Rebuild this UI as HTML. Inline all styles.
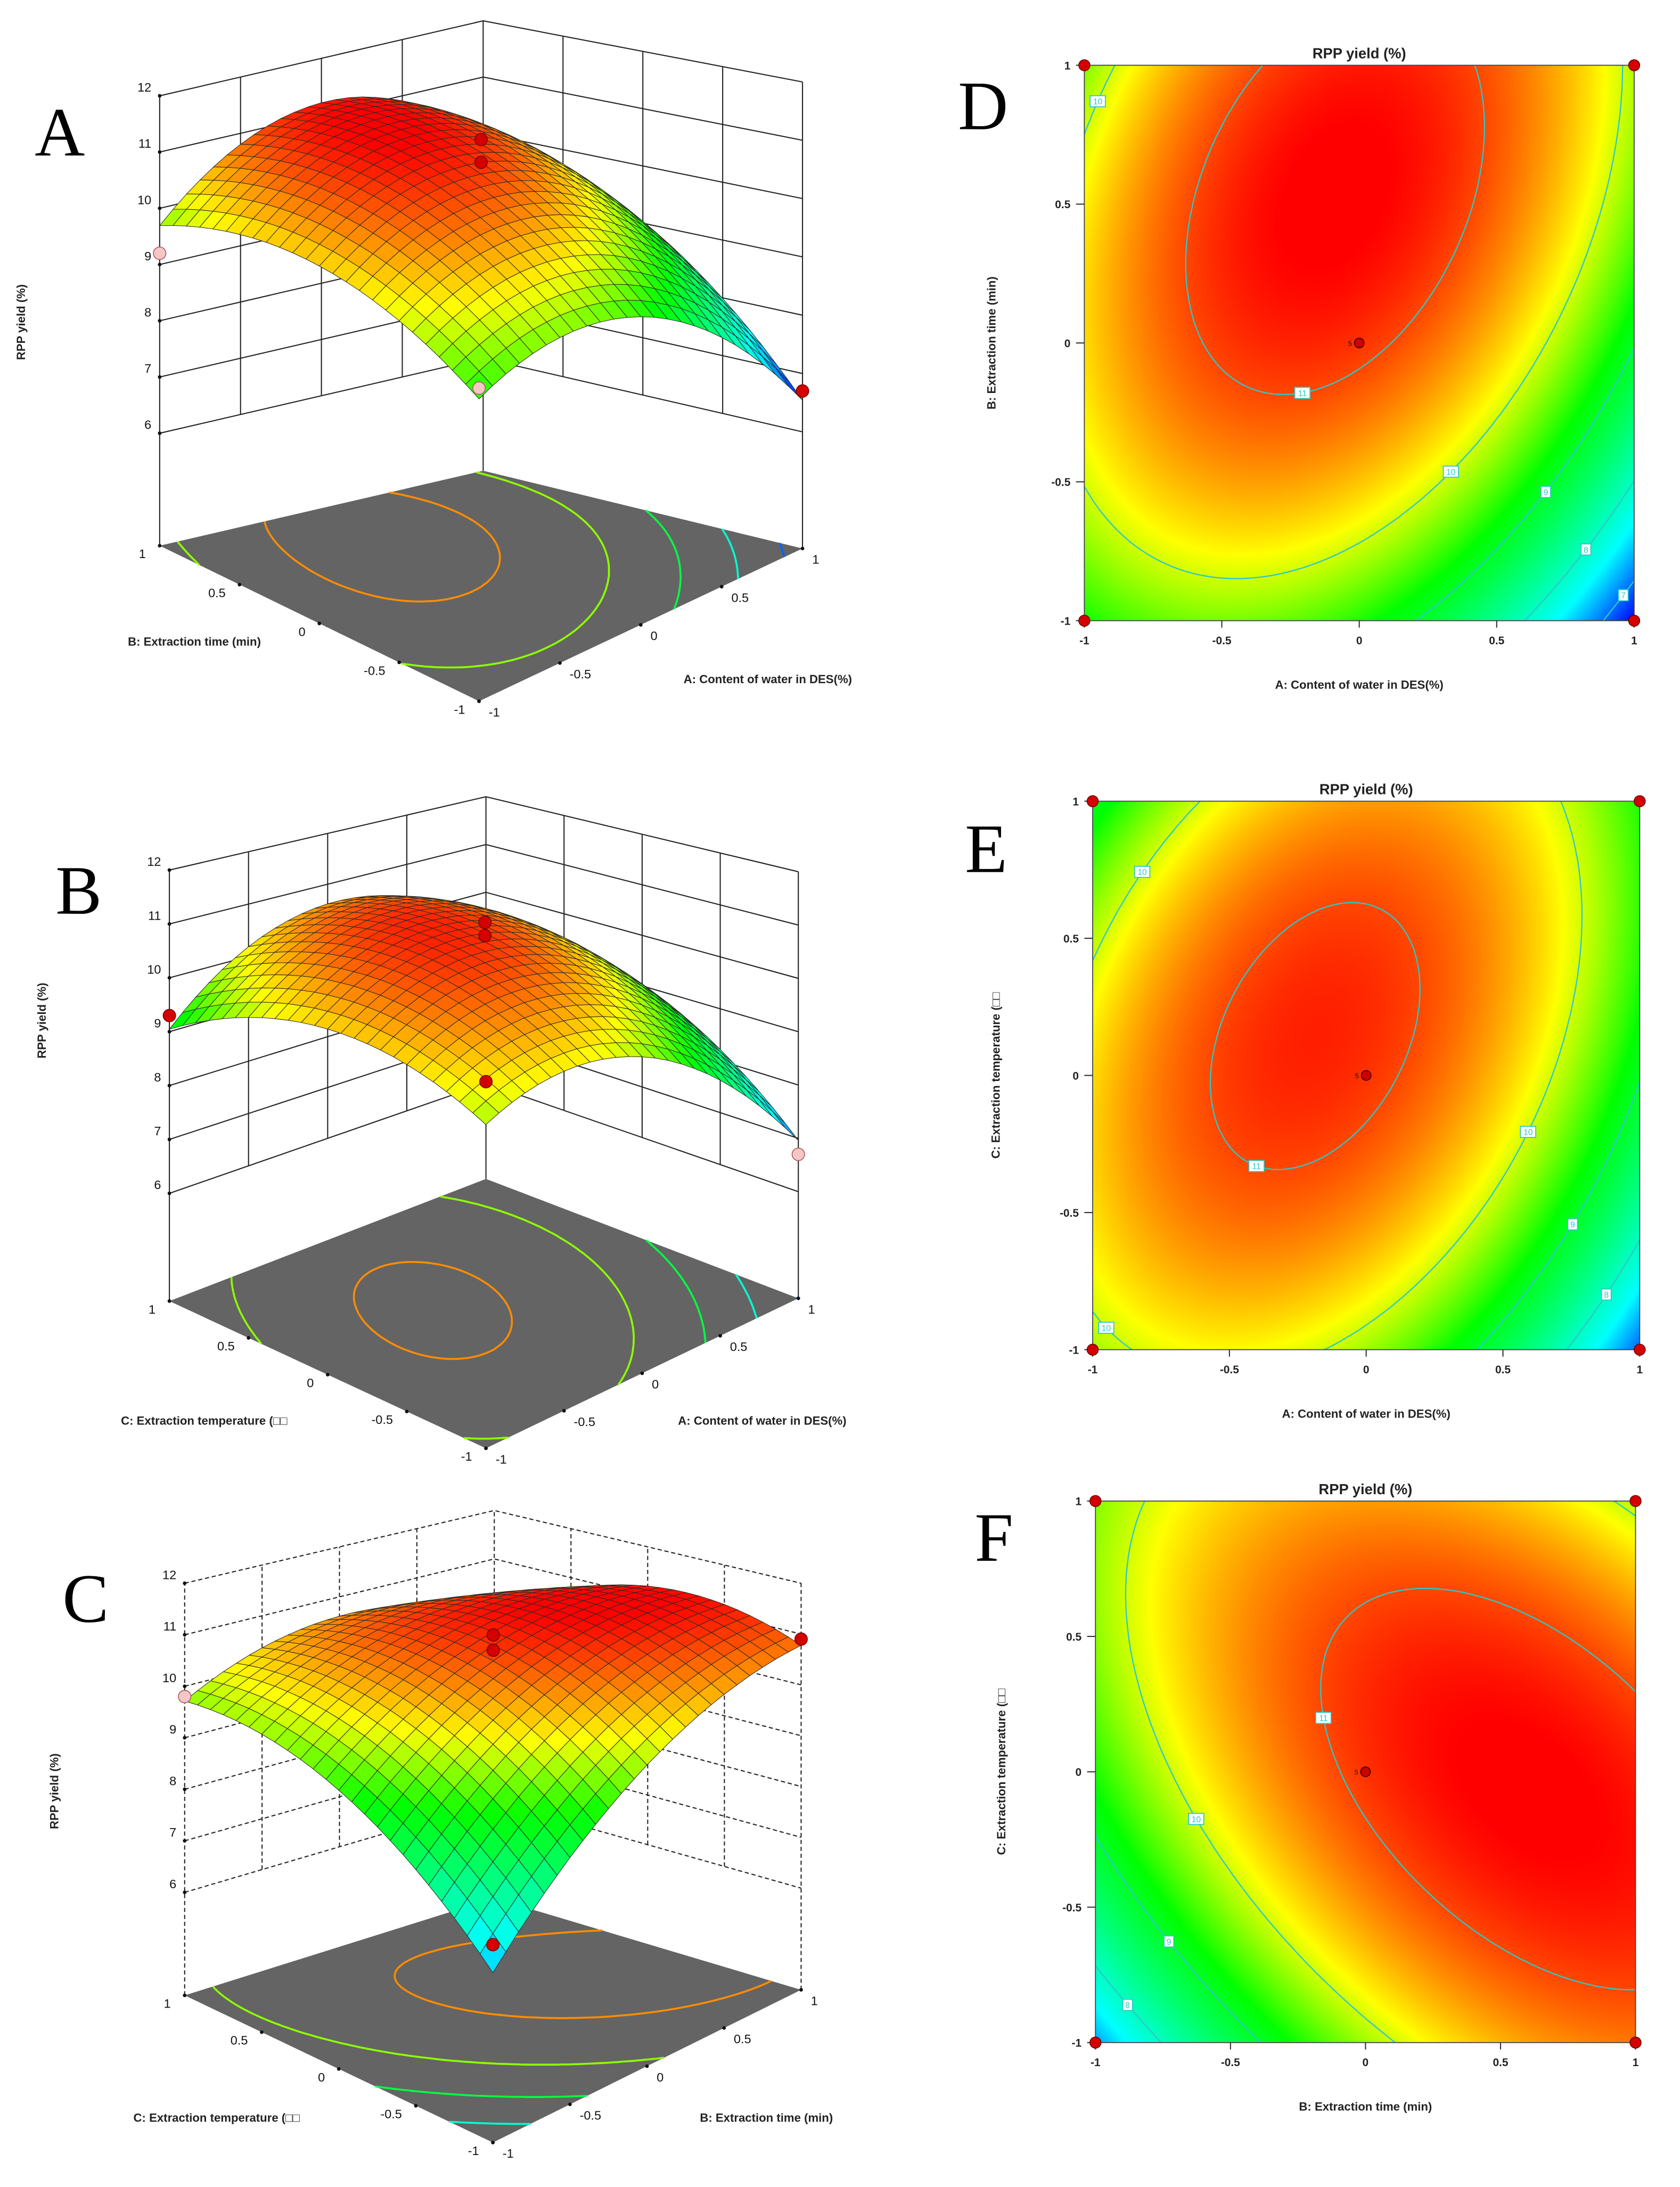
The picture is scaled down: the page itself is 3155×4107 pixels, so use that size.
<!DOCTYPE html>
<html><head><meta charset="utf-8"><style>
html,body{margin:0;padding:0;background:#fff;}
body{width:3155px;height:4107px;overflow:hidden;position:relative;}
#root{position:absolute;left:0;top:0;width:1210px;height:1575px;transform:scale(2.6074,2.6076);transform-origin:0 0;}
canvas{position:absolute;}
svg{position:absolute;left:0;top:0;}
text{font-family:"Liberation Sans",sans-serif;}
</style></head><body>
<div id="root">
<canvas id="hmD"></canvas>
<canvas id="hmE"></canvas>
<canvas id="hmF"></canvas>
<svg id="fig" width="1210" height="1575" viewBox="0 0 1210 1575">
<text x="25" y="112" font-size="50" style="font-family:'Liberation Serif',serif">A</text>
<text x="40" y="658" font-size="50" style="font-family:'Liberation Serif',serif">B</text>
<text x="45" y="1168" font-size="50" style="font-family:'Liberation Serif',serif">C</text>
<text x="690" y="93" font-size="50" style="font-family:'Liberation Serif',serif">D</text>
<text x="695" y="628" font-size="50" style="font-family:'Liberation Serif',serif">E</text>
<text x="702" y="1124" font-size="50" style="font-family:'Liberation Serif',serif">F</text>
</svg>
</div>
<script>
// quadratic response-surface model coefficients (coded factors A, B, C)
const intercept = [11.094];
const linearCoef = [-0.643, 0.932, 0.40];      // A, B, C
const interactionCoef = [0.741, 0.79, -0.848]; // AB, AC, BC
const quadraticCoef = [-1.42, -0.816, -0.88];  // A², B², C²
const contourLevels = [7, 8, 9, 10, 11];
const tickValues = [-1, -0.5, 0, 0.5, 1];
const tickLabels = ['-1', '-0.5', '0', '0.5', '1'];
const zTicks = [6, 7, 8, 9, 10, 11, 12];
// observed design points per 3D panel: [u, v, yield]
const obsA = [[0,0,11.5],[0,0,11.1],[1,-1,6.7],[-1,-1,9.5],[-1,1,9.2]];
const obsAType = ['red','red','red','pink','pink'];
const obsB = [[0,0,11.3],[0,0,11.05],[-1,1,9.3],[-1,-1,10.6],[1,-1,6.7]];
const obsBType = ['red','red','red','red','pink'];
const obsC = [[0,0,11.3],[0,0,11.0],[1,-1,10.9],[-1,1,9.8],[-1,-1,7.75]];
const obsCType = ['red','red','red','pink','red'];
// contour label seeds [u, v, level]
const labelsD = [[-0.95,0.87,10],[-0.21,-0.16,11],[0.32,-0.45,10],[0.67,-0.53,9],[0.82,-0.74,8],[0.95,-0.9,7]];
const labelsE = [[-0.83,0.75,10],[-0.39,-0.3,11],[0.58,-0.2,10],[0.75,-0.54,9],[0.88,-0.8,8],[-0.93,-0.9,10]];
const labelsF = [[-0.15,0.2,11],[-0.62,-0.17,10],[-0.72,-0.62,9],[-0.88,-0.86,8]];

function model(a,b,c){
  return intercept[0]+linearCoef[0]*a+linearCoef[1]*b+linearCoef[2]*c
   +interactionCoef[0]*a*b+interactionCoef[1]*a*c+interactionCoef[2]*b*c
   +quadraticCoef[0]*a*a+quadraticCoef[1]*b*b+quadraticCoef[2]*c*c;
}
const stops=[[0,[0,0,255]],[0.22,[0,255,255]],[0.56,[0,255,0]],[0.75,[255,255,0]],[0.87,[255,128,0]],[0.99,[255,0,0]],[1,[255,0,0]]];
function cmap(t){t=Math.max(0,Math.min(1,t));
  for(let i=1;i<stops.length;i++){if(t<=stops[i][0]){const a=stops[i-1],b=stops[i];const f=(t-a[0])/(b[0]-a[0]);
    return [0,1,2].map(k=>Math.round(a[1][k]+(b[1][k]-a[1][k])*f));}}
  return stops[stops.length-1][1];}
function rgb(c){return 'rgb('+c[0]+','+c[1]+','+c[2]+')';}
function range(f){let mn=1e9,mx=-1e9;for(let i=0;i<=60;i++)for(let j=0;j<=60;j++){const v=f(-1+i/30,-1+j/30);mn=Math.min(mn,v);mx=Math.max(mx,v);}return [mn,mx];}
const fAB=(u,v)=>model(u,v,0), fAC=(u,v)=>model(u,0,v), fBC=(u,v)=>model(0,u,v);
const GR=(function(){const r=[fAB,fAC,fBC].map(range);return [Math.min(...r.map(x=>x[0])),Math.max(...r.map(x=>x[1]))];})();
function iso(f,L){const N=70,segs=[];
  for(let i=0;i<N;i++)for(let j=0;j<N;j++){
    const u0=-1+2*i/N,u1=-1+2*(i+1)/N,v0=-1+2*j/N,v1=-1+2*(j+1)/N;
    const a=f(u0,v0),b=f(u1,v0),c=f(u1,v1),d=f(u0,v1);const p=[];
    if((a-L)*(b-L)<0)p.push([u0+(L-a)/(b-a)*(u1-u0),v0]);
    if((b-L)*(c-L)<0)p.push([u1,v0+(L-b)/(c-b)*(v1-v0)]);
    if((c-L)*(d-L)<0)p.push([u1+(L-c)/(d-c)*(u0-u1),v1]);
    if((d-L)*(a-L)<0)p.push([u0,v1+(L-d)/(a-d)*(v0-v1)]);
    if(p.length>=2)segs.push([p[0],p[1]]);if(p.length==4)segs.push([p[2],p[3]]);}
  return segs;}
const NS='http://www.w3.org/2000/svg';
const svg=document.getElementById('fig');
function el(tag,attrs,parent){const e=document.createElementNS(NS,tag);for(const k in attrs)e.setAttribute(k,attrs[k]);(parent||svg).appendChild(e);return e;}
function txt(x,y,s,size,attrs,parent){const t=el('text',Object.assign({x:x,y:y,'font-size':size},attrs||{}),parent);t.textContent=s;return t;}

// ---------- 3D panels ----------
function draw3D(P){
  const g=el('g',{});
  
  
  const [mn,mx]=GR;
  function proj(u,v,z){const s=(u+1)/2,t=(v+1)/2;
    const w=[(1-s)*(1-t),s*(1-t),(1-s)*t,s*t];const C=[P.front,P.right,P.left,P.back];const Z=P.zs;
    let x=0,y=0,zz=0;for(let k=0;k<4;k++){x+=w[k]*C[k][0];y+=w[k]*C[k][1];zz+=w[k]*Z[k];}
    return [x,y-(z-4)*zz];}
  const dash=P.dashed?'3,2':'none';
  const wall=el('g',{stroke:'#222','stroke-width':0.8,fill:'none','stroke-dasharray':dash},g);
  
  
  zTicks.forEach(z=>{const a=proj(-1,1,z),b=proj(1,1,z),c=proj(1,-1,z);
    el('polyline',{points:a.join(',')+' '+b.join(',')+' '+c.join(',')},wall);});
  [-0.5,0,0.5].forEach(u=>{const a=proj(u,1,6),b=proj(u,1,12);el('line',{x1:a[0],y1:a[1],x2:b[0],y2:b[1]},wall);
    const c=proj(1,u,6),d=proj(1,u,12);el('line',{x1:c[0],y1:c[1],x2:d[0],y2:d[1]},wall);});
  [[-1,1],[1,1],[1,-1]].forEach(p=>{const a=proj(p[0],p[1],4),b=proj(p[0],p[1],12);el('line',{x1:a[0],y1:a[1],x2:b[0],y2:b[1]},wall);});
  zTicks.forEach(z=>{const a=proj(-1,1,z);
    const d=el('circle',{cx:a[0],cy:a[1],r:1.3,fill:'#111'},g);
    
    
    const t=txt(a[0]-6,a[1]-3,String(z),9,{'text-anchor':'end',fill:'#111'},g);
    
    });
  const yl=txt(0,0,'RPP yield (%)',8.5,{'text-anchor':'middle',transform:'translate('+P.ylab[0]+','+P.ylab[1]+') rotate(-90)',fill:'#222','font-weight':'bold'},g);
  
  
  const fl=[proj(-1,-1,4),proj(1,-1,4),proj(1,1,4),proj(-1,1,4)];
  const floor=el('polygon',{points:fl.map(p=>p.join(',')).join(' '),fill:'#646464'},g);
  
  
  const [pmn,pmx]=range(P.f);
  contourLevels.forEach(L=>{if(L<=pmn||L>=pmx)return;const segs=iso(P.f,L);let d='';
    segs.forEach(s=>{const a=proj(s[0][0],s[0][1],4),b=proj(s[1][0],s[1][1],4);d+='M'+a[0].toFixed(1)+' '+a[1].toFixed(1)+'L'+b[0].toFixed(1)+' '+b[1].toFixed(1);});
    const pth=el('path',{d:d,stroke:rgb(cmap((L-mn)/(mx-mn)*0.93)),'stroke-width':1.4,fill:'none'},g);
    
    });
  tickValues.forEach((v,i)=>{
    const a=proj(-1,v,4);const d1=el('circle',{cx:a[0],cy:a[1],r:1.3,fill:'#111'},g);
    
    
    const t1=txt(a[0]-10,a[1]+9,tickLabels[i],9,{'text-anchor':'end',fill:'#111'},g);
    
    
    const b=proj(v,-1,4);const d2=el('circle',{cx:b[0],cy:b[1],r:1.3,fill:'#111'},g);
    
    
    const t2=txt(b[0]+7,b[1]+11,tickLabels[i],9,{'text-anchor':'start',fill:'#111'},g);
    
    });
  const xl1=txt(P.lab1[0],P.lab1[1],P.lab1[2],8.5,{'text-anchor':'middle',fill:'#222','font-weight':'bold'},g);
  
  
  const xl2=txt(P.lab2[0],P.lab2[1],P.lab2[2],8.5,{'text-anchor':'middle',fill:'#222','font-weight':'bold'},g);
  
  
  const N=24,quads=[];
  for(let i=0;i<N;i++)for(let j=0;j<N;j++){const u0=-1+2*i/N,u1=-1+2*(i+1)/N,v0=-1+2*j/N,v1=-1+2*(j+1)/N;
    quads.push({u0,u1,v0,v1,depth:(u0+u1+v0+v1)});}
  quads.sort((a,b)=>b.depth-a.depth);
  const surf=el('g',{stroke:'#2a2a2a','stroke-width':0.4},g);
  
  
  quads.forEach(q=>{const c=[[q.u0,q.v0],[q.u1,q.v0],[q.u1,q.v1],[q.u0,q.v1]];
    const vals=c.map(p=>P.f(p[0],p[1]));const avg=vals.reduce((a,b)=>a+b)/4;
    const pts=c.map((p,k)=>proj(p[0],p[1],vals[k]));
    const col=cmap((avg-mn)/(mx-mn));
    const poly=el('polygon',{points:pts.map(p=>p[0].toFixed(1)+','+p[1].toFixed(1)).join(' '),fill:rgb(col)},surf);
    
    });
  P.obs.forEach((o,k)=>{const p=proj(o[0],o[1],o[2]);
    const c=el('circle',{cx:p[0],cy:p[1],r:4.5,fill:P.obsType[k]=='red'?'#d40000':'#f5c6c6',stroke:P.obsType[k]=='red'?'#700':'#a55','stroke-width':0.6},g);
    
    });
}
draw3D({name:'surface-plot-a',f:fAB,front:[345,505],right:[578,395],left:[115,393],back:[348,339],zs:[41,42,40.5,40.5],
  ylab:[18,232],lab1:[140,465,'B: Extraction time (min)'],lab2:[553,492,'A: Content of water in DES(%)'],obs:obsA,obsType:obsAType});
draw3D({name:'surface-plot-b',f:fAC,front:[350,1043],right:[575,935],left:[122,937],back:[350,849],zs:[40,38.4,38.8,34.4],
  ylab:[33,735],lab1:[147,1026,'C: Extraction temperature (□□'],lab2:[549,1026,'A: Content of water in DES(%)'],obs:obsB,obsType:obsBType});
draw3D({name:'surface-plot-c',f:fBC,front:[355,1543],right:[577,1433],left:[133,1437],back:[356,1367],zs:[38,36.6,37.1,34.9],dashed:true,
  ylab:[42,1290],lab1:[156,1528,'C: Extraction temperature (□□'],lab2:[552,1528,'B: Extraction time (min)'],obs:obsC,obsType:obsCType});

// ---------- contour panels ----------
function drawContour(P){
  const S=2.61,W=P.x1-P.x0,H=P.y1-P.y0;
  const cv=document.getElementById(P.canvas);
  cv.style.left=P.x0+'px';cv.style.top=P.y0+'px';cv.style.width=W+'px';cv.style.height=H+'px';
  const bw=Math.round(W*S),bh=Math.round(H*S);cv.width=bw;cv.height=bh;
  const ctx=cv.getContext('2d');const img=ctx.createImageData(bw,bh);
  const [mn,mx]=GR;
  for(let y=0;y<bh;y++){const v=1-2*y/(bh-1);for(let x=0;x<bw;x++){const u=-1+2*x/(bw-1);
    const c=cmap((P.f(u,v)-mn)/(mx-mn));const k=(y*bw+x)*4;img.data[k]=c[0];img.data[k+1]=c[1];img.data[k+2]=c[2];img.data[k+3]=255;}}
  ctx.putImageData(img,0,0);
  const g=el('g',{});
  
  
  const X=u=>P.x0+(u+1)/2*W,Y=v=>P.y1-(v+1)/2*H;
  const [pmn,pmx]=range(P.f);
  contourLevels.forEach(L=>{if(L<=pmn||L>=pmx)return;let d='';
    iso(P.f,L).forEach(s=>{d+='M'+X(s[0][0]).toFixed(1)+' '+Y(s[0][1]).toFixed(1)+'L'+X(s[1][0]).toFixed(1)+' '+Y(s[1][1]).toFixed(1);});
    const pth=el('path',{d:d,stroke:'#2cc8c8','stroke-width':0.9,fill:'none'},g);
    
    });
  const fr=el('rect',{x:P.x0,y:P.y0,width:W,height:H,fill:'none',stroke:'#444','stroke-width':0.7},g);
  
  
  P.labels.forEach(l=>{let u=l[0],v=l[1];const L=l[2];
    for(let it=0;it<8;it++){const e=1e-4,f0=P.f(u,v)-L,gu=(P.f(u+e,v)-P.f(u-e,v))/(2*e),gv=(P.f(u,v+e)-P.f(u,v-e))/(2*e);const n=gu*gu+gv*gv;if(n<1e-9)break;u-=f0*gu/n;v-=f0*gv/n;}
    if(Math.abs(u)>0.98||Math.abs(v)>0.98||Math.abs(P.f(u,v)-L)>0.05)return;
    const x=X(u),y=Y(v),w=L>=10?11:7;
    const r=el('rect',{x:x-w/2,y:y-4,width:w,height:8,fill:'#fff',stroke:'#2cc8c8','stroke-width':0.7},g);
    
    
    const t=txt(x,y+2.3,String(L),6,{'text-anchor':'middle',fill:'#2cc8c8'},g);
    
    });
  tickValues.forEach((v,i)=>{
    const a=el('line',{x1:X(v),y1:P.y1,x2:X(v),y2:P.y1+5,stroke:'#333','stroke-width':0.8},g);
    
    
    const t=txt(X(v),P.y1+17,tickLabels[i],8,{'text-anchor':'middle',fill:'#222','font-weight':'bold'},g);
    
    
    const b=el('line',{x1:P.x0-6,y1:Y(v),x2:P.x0,y2:Y(v),stroke:'#333','stroke-width':0.8},g);
    
    
    const t2=txt(P.x0-10,Y(v)+3,tickLabels[i],8,{'text-anchor':'end',fill:'#222','font-weight':'bold'},g);
    
    });
  const ti=txt((P.x0+P.x1)/2,P.y0-5,'RPP yield (%)',10.5,{'text-anchor':'middle',fill:'#222','font-weight':'bold'},g);
  
  
  const xt=txt((P.x0+P.x1)/2,P.y1+49,P.xlab,8.5,{'text-anchor':'middle',fill:'#222','font-weight':'bold'},g);
  
  
  const yt=txt(0,0,P.ylab,8.5,{'text-anchor':'middle',fill:'#222','font-weight':'bold',transform:'translate('+P.ylabX+','+((P.y0+P.y1)/2)+') rotate(-90)'},g);
  
  
  [[-1,-1],[1,-1],[-1,1],[1,1]].forEach(p=>{const c=el('circle',{cx:X(p[0]),cy:Y(p[1]),r:4,fill:'#d40000',stroke:'#600','stroke-width':0.6},g);
    
    });
  const cc=el('circle',{cx:X(0),cy:Y(0),r:3.5,fill:'#c00',stroke:'#300','stroke-width':0.6},g);
  
  
  const ct=txt(X(0)-8,Y(0)+2,'5',5,{fill:'#111'},g);
  
  
}
drawContour({name:'contour-plot-d',canvas:'hmD',f:fAB,x0:781,x1:1177,y0:47,y1:447,xlab:'A: Content of water in DES(%)',ylab:'B: Extraction time (min)',ylabX:717,labels:labelsD});
drawContour({name:'contour-plot-e',canvas:'hmE',f:fAC,x0:787,x1:1181,y0:577,y1:972,xlab:'A: Content of water in DES(%)',ylab:'C: Extraction temperature (□□',ylabX:720,labels:labelsE});
drawContour({name:'contour-plot-f',canvas:'hmF',f:fBC,x0:789,x1:1178,y0:1081,y1:1471,xlab:'B: Extraction time (min)',ylab:'C: Extraction temperature (□□',ylabX:724,labels:labelsF});
</script>
</body></html>
